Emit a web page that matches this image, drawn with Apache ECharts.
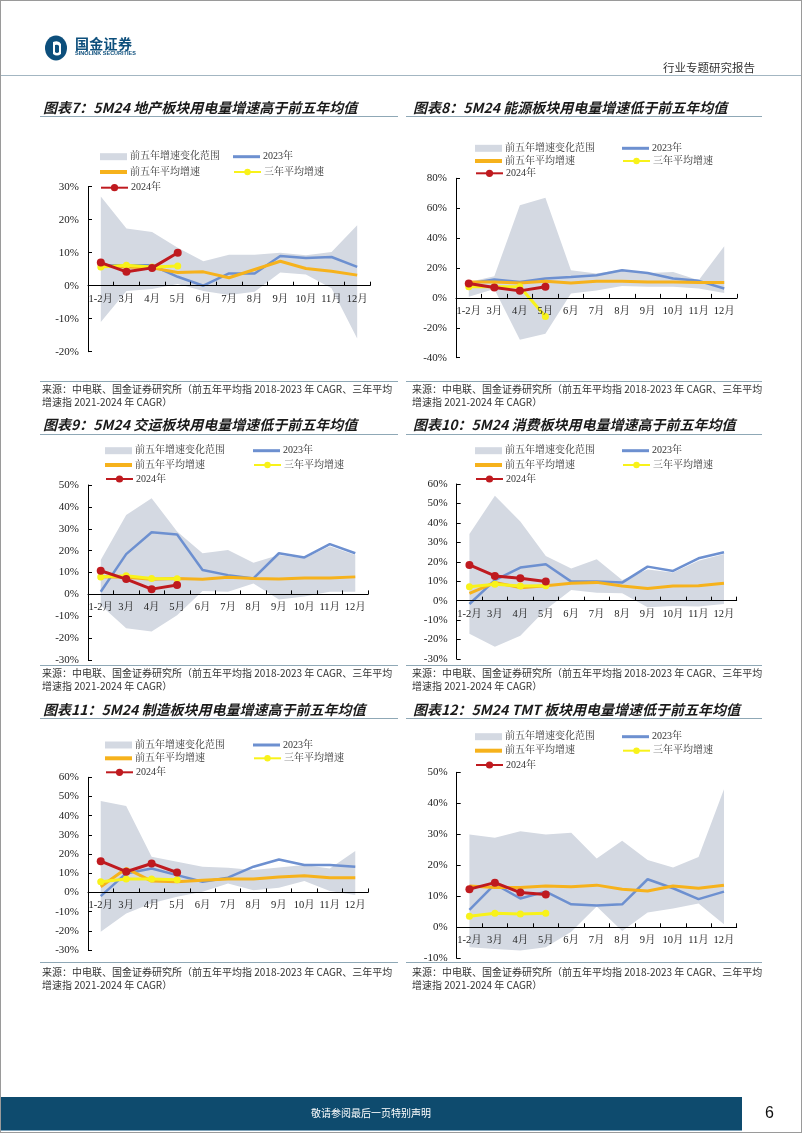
<!DOCTYPE html>
<html><head><meta charset="utf-8">
<script src="https://cdn.jsdelivr.net/npm/echarts@6/dist/echarts.min.js"></script>
<style>
body{margin:0;background:#fff;}
#page{position:relative;width:802px;height:1133px;overflow:hidden;background:#fff;}
#chart{position:absolute;left:0;top:0;width:802px;height:1133px;}
.t{position:absolute;white-space:nowrap;font-family:'Noto Sans CJK SC',sans-serif;}
.title{font-size:14px;font-weight:700;font-style:italic;color:#1a1a1a;line-height:16px;}
.src{font-size:10px;color:#333;line-height:13.4px;}
.rule{position:absolute;height:1px;background:#8fa8b6;}
#frame{position:absolute;left:0;top:0;width:802px;height:1133px;box-sizing:border-box;border:1px solid #9a9a9a;pointer-events:none;}
</style></head>
<body><div id="page">
<div id="chart"></div>

<svg style="position:absolute;left:44px;top:34px" width="26" height="28" viewBox="0 0 26 28">
  <ellipse cx="12" cy="14" rx="11" ry="12.5" fill="#0d4f7c"/>
  <path d="M9 8 Q15 6 17 10 L17 20 Q13 23 9 20 Z" fill="#fff"/>
  <path d="M11 11 Q14 10 15 12 L15 18 Q13 20 11 18 Z" fill="#0d4f7c"/>
</svg>
<div class="t" style="left:75px;top:35px;font-size:14px;font-weight:700;color:#0d4f7c;line-height:17px;letter-spacing:0.3px">国金证券</div>
<div class="t" style="left:75px;top:51px;font-size:10px;font-weight:700;color:#0d4f7c;line-height:10px;transform:scale(0.55);transform-origin:0 0;font-family:'Liberation Sans',sans-serif">SINOLINK SECURITIES</div>
<div class="t" style="left:663px;top:60px;font-size:11.5px;color:#333;line-height:14px">行业专题研究报告</div>
<div class="rule" style="left:0;top:74.5px;width:802px;height:1.5px;background:#a3b6c2"></div>

<div class="t title" style="left:43px;top:99px">图表7：5M24 地产板块用电量增速高于前五年均值</div>
<div class="t title" style="left:413px;top:99px">图表8：5M24 能源板块用电量增速低于前五年均值</div>
<div class="rule" style="left:40px;top:116px;width:358px"></div>
<div class="rule" style="left:406px;top:116px;width:356px"></div>

<div class="t title" style="left:43px;top:416px">图表9：5M24 交运板块用电量增速低于前五年均值</div>
<div class="t title" style="left:413px;top:416px">图表10：5M24 消费板块用电量增速高于前五年均值</div>
<div class="rule" style="left:40px;top:434px;width:358px"></div>
<div class="rule" style="left:406px;top:434px;width:356px"></div>

<div class="t title" style="left:43px;top:701px">图表11：5M24 制造板块用电量增速高于前五年均值</div>
<div class="t title" style="left:413px;top:701px">图表12：5M24 TMT 板块用电量增速低于前五年均值</div>
<div class="rule" style="left:40px;top:718px;width:358px"></div>
<div class="rule" style="left:406px;top:718px;width:356px"></div>

<div class="rule" style="left:40px;top:381px;width:358px"></div>
<div class="rule" style="left:406px;top:381px;width:356px"></div>
<div class="t src" style="left:42px;top:382px">来源：中电联、国金证券研究所（前五年平均指 2018-2023 年 CAGR、三年平均<br>增速指 2021-2024 年 CAGR）</div>
<div class="t src" style="left:412px;top:382px">来源：中电联、国金证券研究所（前五年平均指 2018-2023 年 CAGR、三年平均<br>增速指 2021-2024 年 CAGR）</div>

<div class="rule" style="left:40px;top:665px;width:358px"></div>
<div class="rule" style="left:406px;top:665px;width:356px"></div>
<div class="t src" style="left:42px;top:666px">来源：中电联、国金证券研究所（前五年平均指 2018-2023 年 CAGR、三年平均<br>增速指 2021-2024 年 CAGR）</div>
<div class="t src" style="left:412px;top:666px">来源：中电联、国金证券研究所（前五年平均指 2018-2023 年 CAGR、三年平均<br>增速指 2021-2024 年 CAGR）</div>

<div class="rule" style="left:40px;top:962px;width:358px"></div>
<div class="rule" style="left:406px;top:962px;width:356px"></div>
<div class="t src" style="left:42px;top:965px">来源：中电联、国金证券研究所（前五年平均指 2018-2023 年 CAGR、三年平均<br>增速指 2021-2024 年 CAGR）</div>
<div class="t src" style="left:412px;top:965px">来源：中电联、国金证券研究所（前五年平均指 2018-2023 年 CAGR、三年平均<br>增速指 2021-2024 年 CAGR）</div>

<div style="position:absolute;left:0;top:1097px;width:742px;height:33px;background:#0e4b6e;border-bottom:1.5px solid #7fa3ba"></div>
<div class="t" style="left:0;width:742px;top:1106px;text-align:center;font-size:10px;color:#fff;line-height:14px">敬请参阅最后一页特别声明</div>
<div class="t" style="left:765px;top:1103px;font-size:16px;color:#111;line-height:20px;font-family:'Liberation Sans',sans-serif">6</div>
<div id="frame"></div>
</div>
<script>
// ---------- data ----------
const months = ['1-2月','3月','4月','5月','6月','7月','8月','9月','10月','11月','12月'];

// 图表7 地产
const re_lower = [-11, -1.6, -1, 0.5, -1.6, -2.8, -1.8, 4, 3.4, -0.8, -16];
const re_upper = [27, 17.3, 16.3, 11.5, 7.4, 9.4, 9.4, 10, 9.2, 10.2, 18.3];
const re_2023  = [6.2, 6.2, 6.2, 2.7, 0, 3.7, 3.7, 9, 8.4, 8.7, 5.7];
const re_avg5  = [5.9, 5.7, 5.4, 4.0, 4.2, 2.4, 4.9, 7.4, 5.2, 4.4, 3.2];
const re_avg3  = [5.7, 6.2, 5.7, 6.0];
const re_2024  = [7.0, 4.2, 5.4, 10.0];

// 图表8 能源
const en_lower = [0.7, 6, -28, -24, 3, 5, 8, 7.4, 7.4, 6.3, 3.3];
const en_upper = [10.7, 14.5, 62, 67, 18.5, 16.3, 19, 16.7, 17.4, 11.8, 34.6];
const en_2023  = [9.6, 12.3, 10.7, 13, 14, 15.2, 18.5, 16.7, 13, 11.4, 6.3];
const en_avg5  = [10.7, 10.7, 10, 11.2, 10, 11.2, 11.2, 10.7, 10.7, 10.3, 10.3];
const en_avg3  = [7.4, 7.4, 7.4, -12.4];
const en_2024  = [9.6, 6.9, 4.7, 7.4];

// 图表9 交运
const tr_lower = [-5, -15.5, -17, -9.5, 1.5, 1.2, 5, -2.3, -1, 1.2, 1.2];
const tr_upper = [15.7, 36.3, 43.9, 28.7, 18.8, 20.3, 14.5, 18, 16.5, 22, 18];
const tr_2023  = [1.2, 18.4, 28.4, 27.4, 11.1, 8.8, 7.3, 18.8, 16.9, 23, 18.8];
const tr_avg5  = [8, 7.8, 6.9, 7.3, 6.9, 7.8, 7.3, 7, 7.5, 7.5, 8];
const tr_avg3  = [8, 8.5, 7.3, 7.2];
const tr_2024  = [10.8, 7, 2.4, 4.3];

// 图表10 消费
const co_lower = [-17, -23.7, -18, -4.5, 5.5, 4.1, 3.8, -3.4, -2.7, -3, -1.7];
const co_upper = [34.3, 53.9, 40.7, 23, 16.6, 21.3, 10.6, 16, 14.5, 20.5, 24];
const co_2023  = [-1.7, 10.6, 17, 18.7, 9.8, 9.8, 9.3, 17.5, 15.3, 21.8, 24.9];
const co_avg5  = [3.8, 9.3, 6.7, 7.7, 8.9, 9.4, 7.5, 6.2, 7.5, 7.7, 8.9];
const co_avg3  = [7.2, 8.4, 7.5, 7.7];
const co_2024  = [18.4, 12.7, 11.5, 9.8];

// 图表11 制造
const mf_lower = [-20.5, -11, -5.7, -2.3, 0.3, 4.7, 1.2, 2.4, 6, 0.7, -1.4];
const mf_upper = [47.7, 45, 18.6, 16, 13.4, 12.9, 11.7, 13, 14.3, 12.5, 21.6];
const mf_2023  = [-1.9, 9.9, 12.5, 9, 5.6, 7.7, 13.4, 17.2, 14.3, 14.3, 13.4];
const mf_avg5  = [3, 12.5, 5.9, 5.6, 6.4, 7, 7, 8, 8.7, 7.7, 7.7];
const mf_avg3  = [5.6, 7, 7, 6.6];
const mf_2024  = [16.3, 10.8, 15.1, 10.4];

// 图表12 TMT
const tm_lower = [-6.4, -7, -7.5, -6.4, -1.4, 6.7, -1.2, 4.8, 6.1, 7.7, 1];
const tm_upper = [29.9, 28.9, 31, 29.9, 30.5, 22.2, 27.9, 21.7, 19.3, 22.7, 44.5];
const tm_2023  = [5.6, 13.9, 9.3, 11.5, 7.4, 7, 7.4, 15.5, 12.6, 9.1, 11.5];
const tm_avg5  = [13.3, 12.8, 12.8, 13.3, 13.1, 13.6, 12.3, 11.7, 13.3, 12.6, 13.6];
const tm_avg3  = [3.6, 4.5, 4.3, 4.5];
const tm_2024  = [12.3, 14.4, 11.2, 10.6];

// y-axis ranges [min, max, step]
const re_y = [-20, 30, 10];
const en_y = [-40, 80, 20];
const tr_y = [-30, 50, 10];
const co_y = [-30, 60, 10];
const mf_y = [-30, 60, 10];
const tm_y = [-10, 50, 10];

const N_BAND = '前五年增速变化范围', N_2023 = '2023年', N_AVG5 = '前五年平均增速', N_AVG3 = '三年平均增速', N_2024 = '2024年';

// ---------- layout ----------
const panels = [
  {d:[re_lower,re_upper,re_2023,re_avg5,re_avg3,re_2024], y:re_y, g:[88,186.7,282,165],   rows:[156.7,172,187.7], lx:[100,233]},
  {d:[en_lower,en_upper,en_2023,en_avg5,en_avg3,en_2024], y:en_y, g:[456,178.3,281,179.4], rows:[148.3,161,173.3], lx:[475,622]},
  {d:[tr_lower,tr_upper,tr_2023,tr_avg5,tr_avg3,tr_2024], y:tr_y, g:[88,485,280,175],     rows:[450.7,465,479],   lx:[105,253]},
  {d:[co_lower,co_upper,co_2023,co_avg5,co_avg3,co_2024], y:co_y, g:[456.7,484,280,175],  rows:[450.7,465,479],   lx:[475,622]},
  {d:[mf_lower,mf_upper,mf_2023,mf_avg5,mf_avg3,mf_2024], y:mf_y, g:[88,777.3,280,172.7], rows:[745,758.3,772.3], lx:[105,253]},
  {d:[tm_lower,tm_upper,tm_2023,tm_avg5,tm_avg3,tm_2024], y:tm_y, g:[456.7,772.3,280,186],rows:[736.7,750.7,765], lx:[475,622]}
];

const FONT = "'Liberation Serif','Noto Serif CJK SC','Noto Sans CJK SC',serif";
const C_BAND = '#d4d9e2', C_BLUE = '#6d90d0', C_ORANGE = '#f6b21c', C_YELLOW = '#f8f21a', C_RED = '#bf1a1f';

const option = {animation:false, grid:[], xAxis:[], yAxis:[], series:[], legend:[]};

const LEG_LH = 12;
function leg(name, left, rowY, h, extra){
  return {data:[Object.assign({name:name}, extra||{})], left:left, top:rowY - LEG_LH/2, itemWidth:27, itemHeight:h,
    padding:0, selectedMode:false, itemGap:0,
    textStyle:{fontSize:10, lineHeight:LEG_LH, height:LEG_LH, color:'#333', fontFamily:FONT, padding:[0,0,0,-2]}};
}

panels.forEach((p, i) => {
  const [lower, upper, s23, a5, a3, s24] = p.d;
  option.grid.push({left:p.g[0], top:p.g[1], width:p.g[2], height:p.g[3]});
  // place the category axis on the zero line of the value axis
  const zeroOffset = -p.g[3] * (0 - p.y[0]) / (p.y[1] - p.y[0]);
  option.xAxis.push({type:'category', gridIndex:i, data:months, boundaryGap:true, position:'bottom', offset:zeroOffset, z:20,
    axisLine:{onZero:false, lineStyle:{color:'#000', width:1}},
    axisTick:{show:true, inside:true, length:4, interval:0, lineStyle:{color:'#000'}},
    axisLabel:{interval:0, margin:8, fontSize:10.5, color:'#222', fontFamily:FONT},
    splitLine:{show:false}});
  option.yAxis.push({type:'value', gridIndex:i, min:p.y[0], max:p.y[1], interval:p.y[2], z:20,
    axisLine:{show:true, lineStyle:{color:'#000', width:1}},
    axisTick:{show:true, inside:true, length:4, lineStyle:{color:'#000'}},
    axisLabel:{formatter:'{value}%', fontSize:11, color:'#222', margin:9, fontFamily:FONT},
    splitLine:{show:false}});
  const st = 'band' + i;
  const base = {type:'line', xAxisIndex:i, yAxisIndex:i, animation:false};
  option.series.push(Object.assign({}, base, {name:'_lower'+i, data:lower, stack:st, stackStrategy:'all',
    symbol:'none', lineStyle:{opacity:0, width:0}, silent:true, z:1}));
  option.series.push(Object.assign({}, base, {name:N_BAND, data:upper.map((u,k)=>+(u-lower[k]).toFixed(2)),
    stack:st, stackStrategy:'all', symbol:'none', lineStyle:{opacity:0, width:0},
    itemStyle:{color:C_BAND}, areaStyle:{color:C_BAND, opacity:1}, z:1}));
  option.series.push(Object.assign({}, base, {name:N_2023, data:s23, symbol:'none',
    itemStyle:{color:C_BLUE}, lineStyle:{color:C_BLUE, width:2.5}, z:2}));
  option.series.push(Object.assign({}, base, {name:N_AVG5, data:a5, symbol:'none',
    itemStyle:{color:C_ORANGE}, lineStyle:{color:C_ORANGE, width:3}, z:3}));
  option.series.push(Object.assign({}, base, {name:N_AVG3, data:a3, symbol:'circle', symbolSize:7,
    itemStyle:{color:C_YELLOW}, lineStyle:{color:C_YELLOW, width:3}, z:4}));
  option.series.push(Object.assign({}, base, {name:N_2024, data:s24, symbol:'circle', symbolSize:8,
    itemStyle:{color:C_RED}, lineStyle:{color:C_RED, width:3}, z:5}));

  option.legend.push(leg(N_BAND, p.lx[0], p.rows[0], 7, {icon:'rect', itemStyle:{color:C_BAND}}));
  option.legend.push(leg(N_2023, p.lx[1], p.rows[0], 3, {icon:'rect', itemStyle:{color:C_BLUE}}));
  option.legend.push(leg(N_AVG5, p.lx[0], p.rows[1], 4, {icon:'rect', itemStyle:{color:C_ORANGE}}));
  option.legend.push(leg(N_AVG3, p.lx[1], p.rows[1], 8));
  option.legend.push(leg(N_2024, p.lx[0], p.rows[2], 9));
});

const chart = echarts.init(document.getElementById('chart'), null, {renderer:'canvas'});
chart.setOption(option);
</script>
</body></html>
